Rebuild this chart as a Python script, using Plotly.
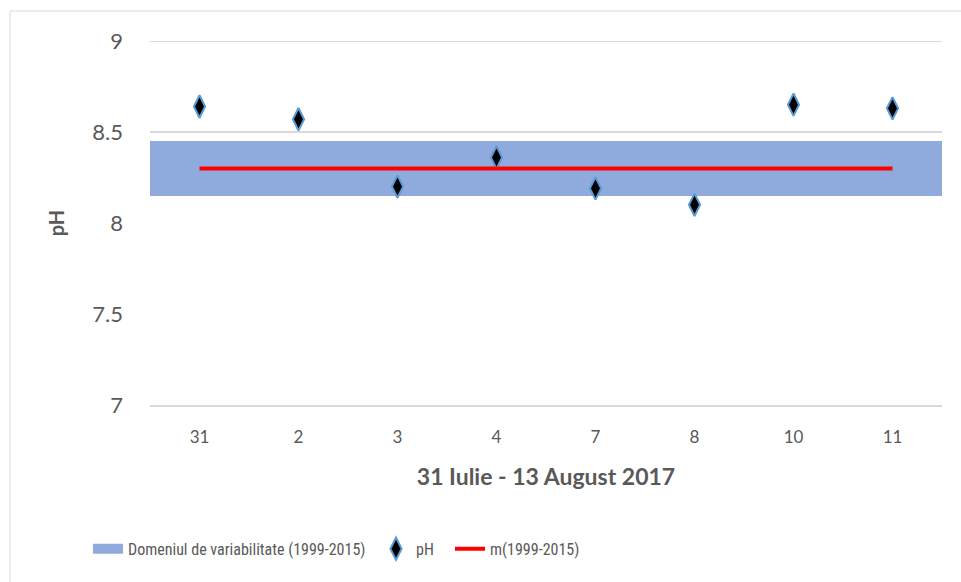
import plotly.graph_objects as go

categories = ["31", "2", "3", "4", "7", "8", "10", "11"]
ph_values = [8.64, 8.57, 8.20, 8.36, 8.19, 8.10, 8.65, 8.63]
mean_value = 8.30
band_low = 8.15
band_high = 8.45
grid_levels = [8.5, 9.0]

FONT = "Lato, 'Open Sans', sans-serif"
LEG_FONT = "'Liberation Sans Narrow', 'Roboto Condensed', Roboto, sans-serif"
GRAY = "#595959"
BAND = "#8faadc"

fig = go.Figure()

fig.add_trace(go.Bar(
    x=categories,
    y=[band_high - band_low] * len(categories),
    base=[band_low] * len(categories),
    width=1.0,
    marker=dict(color=BAND, line=dict(width=0)),
    name="Domeniul de variabilitate (1999-2015)",
    showlegend=False,
    hoverinfo="skip",
))
# legend entry for the band (wide swatch)
fig.add_trace(go.Scatter(
    x=[None], y=[None], mode="lines",
    line=dict(color=BAND, width=13),
    name="Domeniul de variabilitate (1999-2015)",
    legend="legend",
))

fig.add_trace(go.Scatter(
    x=categories,
    y=ph_values,
    mode="markers",
    marker=dict(symbol="diamond-tall", size=16, color="black",
                line=dict(color="#5b9bd5", width=2)),
    name="pH",
    legend="legend2",
))

fig.add_trace(go.Scatter(
    x=categories,
    y=[mean_value] * len(categories),
    mode="lines",
    line=dict(color="#ff0000", width=4),
    name="m(1999-2015)",
    legend="legend3",
))

for g in grid_levels:
    fig.add_shape(type="line", xref="paper", yref="y", x0=0, x1=1, y0=g, y1=g,
                  line=dict(color="#d9d9d9", width=2), layer="below")

fig.add_shape(type="rect", xref="paper", yref="paper",
              x0=-0.1768, x1=1.1, y0=-0.6, y1=1.0824,
              line=dict(color="#d9d9d9", width=1))

leg_common = dict(orientation="h", yanchor="middle", y=-0.395, xanchor="left",
                  font=dict(size=16, color=GRAY, family=LEG_FONT),
                  bgcolor="rgba(0,0,0,0)")

fig.update_layout(
    width=961, height=582,
    margin=dict(l=150, r=19, t=41, b=177),
    paper_bgcolor="white", plot_bgcolor="white",
    bargap=0,
    font=dict(family=FONT, color=GRAY),
    showlegend=True,
    legend=dict(x=(88 - 150) / 792, **leg_common),
    legend2=dict(x=(376 - 150) / 792, **leg_common),
    legend3=dict(x=(450 - 150) / 792, **leg_common),
    xaxis=dict(
        type="category", categoryorder="array", categoryarray=categories,
        range=[-0.5, 7.5],
        showgrid=False, showline=True, linecolor="#d9d9d9", linewidth=2,
        tickfont=dict(size=17, color=GRAY), ticks="", ticklabelstandoff=16,
        title=dict(text="<b>31 Iulie - 13 August 2017</b>", font=dict(size=23, color=GRAY), standoff=22),
    ),
    yaxis=dict(
        range=[7, 9], tickvals=[7, 7.5, 8, 8.5, 9], ticktext=["7", "7.5", "8", "8.5", "9"],
        showgrid=False, zeroline=False, showline=False,
        tickfont=dict(size=22, color=GRAY), ticks="", ticklabelstandoff=26,
        title=dict(text="<b>pH</b>", font=dict(size=20, color=GRAY), standoff=22),
    ),
)

fig.write_html("out.html", config={"displayModeBar": False},
               post_script="document.body.style.margin='0';")
